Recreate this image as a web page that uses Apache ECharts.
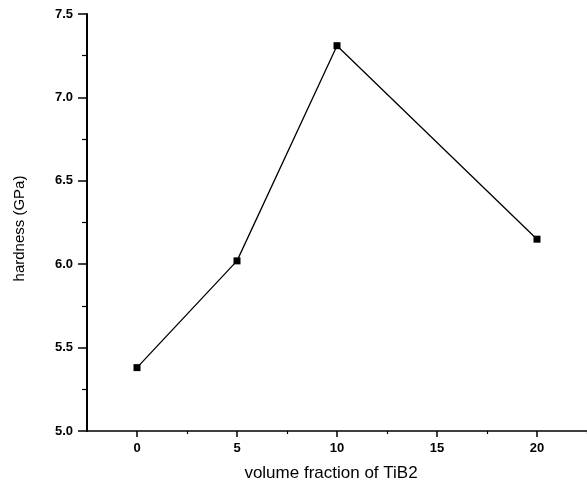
<!DOCTYPE html>
<html>
<head>
<meta charset="utf-8">
<script src="https://cdn.jsdelivr.net/npm/echarts@6/dist/echarts.min.js"></script>
<style>html,body{margin:0;padding:0;background:#fff}#c{width:587px;height:488px}</style>
</head>
<body>
<div id="c"></div>
<script>
const volumeFraction = [0, 5, 10, 20];
const hardness = [5.38, 6.02, 7.31, 6.15];
const xMajorTicks = [0, 5, 10, 15, 20];
const xMinorTicks = [2.5, 7.5, 12.5, 17.5, 22.5];
const xAxisTitle = 'volume fraction of TiB2';
const yAxisTitle = 'hardness (GPa)';

const chart = echarts.init(document.getElementById('c'), null, {renderer: 'canvas'});
const labelFont = {color: '#000', fontFamily: 'Liberation Sans', fontWeight: 'bold', fontSize: 13};
chart.setOption({
  animation: false,
  backgroundColor: '#fff',
  grid: {left: 87, right: -5.5, top: 14, bottom: 57},
  xAxis: [{
    type: 'value', min: -2.5, max: 22.5, position: 'bottom',
    name: xAxisTitle, nameLocation: 'middle', nameGap: 34,
    nameTextStyle: {color: '#000', fontFamily: 'Liberation Sans', fontSize: 17, padding: [0, 12, 0, 0]},
    axisLine: {onZero: false, lineStyle: {color: '#000', width: 1.5}},
    axisTick: {customValues: xMajorTicks, length: 6, lineStyle: {color: '#000', width: 1.5}},
    axisLabel: Object.assign({customValues: xMajorTicks, margin: 11}, labelFont),
    splitLine: {show: false}
  }, {
    type: 'value', min: -2.5, max: 22.5, position: 'bottom',
    axisLine: {show: false},
    axisTick: {customValues: xMinorTicks, length: 3, lineStyle: {color: '#000', width: 1.2}},
    axisLabel: {show: false},
    splitLine: {show: false}
  }],
  yAxis: {
    type: 'value', min: 5, max: 7.5, interval: 0.5,
    name: yAxisTitle, nameLocation: 'middle', nameGap: 60,
    nameTextStyle: {color: '#000', fontFamily: 'Liberation Sans', fontSize: 15, padding: [0, 12, 0, 0]},
    axisLine: {show: true, onZero: false, lineStyle: {color: '#000', width: 2}},
    axisTick: {show: true, length: 9, lineStyle: {color: '#000', width: 1.5}},
    minorTick: {show: true, splitNumber: 2, length: 5, lineStyle: {color: '#000', width: 1.2}},
    axisLabel: Object.assign({margin: 14, formatter: v => v.toFixed(1)}, labelFont),
    splitLine: {show: false}
  },
  series: [{
    type: 'line',
    data: volumeFraction.map((x, i) => [x, hardness[i]]),
    symbol: 'rect', symbolSize: 7,
    lineStyle: {color: '#000', width: 1.3},
    itemStyle: {color: '#000'}
  }]
});
</script>
</body>
</html>
